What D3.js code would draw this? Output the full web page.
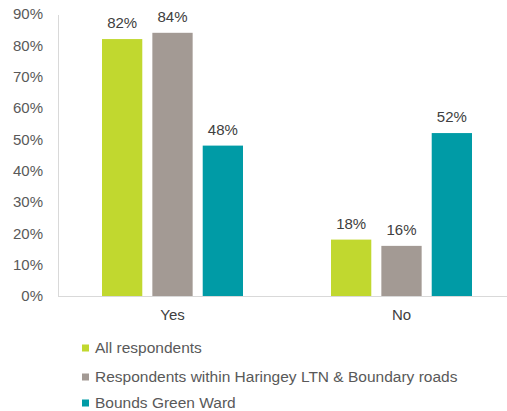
<!DOCTYPE html>
<html><head><meta charset="utf-8">
<script src="https://cdn.jsdelivr.net/npm/d3@7"></script>
<style>body{margin:0;background:#fff}svg{display:block}text{font-family:"Liberation Sans",Arial,sans-serif}</style>
</head><body><svg id="c" width="507" height="411"></svg>
<script>
const categories = ["Yes", "No"];
const seriesNames = ["All respondents", "Respondents within Haringey LTN & Boundary roads", "Bounds Green Ward"];
const allResp = [82, 18];
const haringeyLTN = [84, 16];
const boundsGreen = [48, 52];
const yTicks = [0, 10, 20, 30, 40, 50, 60, 70, 80, 90];
const colors = ["#c1d82f", "#a39a94", "#009ba6"];
const series = [allResp, haringeyLTN, boundsGreen];

const svg = d3.select("#c");
const x0 = d3.scaleBand().domain(categories).range([58, 516]).paddingInner(0).paddingOuter(0);
const x1 = d3.scaleBand().domain(d3.range(3)).range([0, 141]).paddingInner(0.2);
const y = d3.scaleLinear().domain([0, 90]).range([296, 14]);

svg.append("line").attr("x1", 58).attr("x2", 507).attr("y1", y(0)+0.5).attr("y2", y(0)+0.5).attr("stroke", "#d9d9d9");
svg.append("line").attr("x1", 58.5).attr("x2", 58.5).attr("y1", y(90)+1).attr("y2", y(0)).attr("stroke", "#d9d9d9");

svg.selectAll(".yt").data(yTicks).enter().append("text")
  .attr("x", 43).attr("y", d => y(d)).attr("dy", "0.35em").attr("text-anchor", "end")
  .attr("font-size", 15).attr("fill", "#595959").text(d => d + "%");

categories.forEach((c, ci) => {
  const cx = x0(c) + x0.bandwidth()/2 - 70.5;
  series.forEach((s, si) => {
    const bx = cx + x1(si);
    svg.append("rect").attr("x", bx).attr("y", y(s[ci])).attr("width", x1.bandwidth())
      .attr("height", y(0) - y(s[ci])).attr("fill", colors[si]);
    svg.append("text").attr("x", bx + x1.bandwidth()/2).attr("y", y(s[ci]) - 11)
      .attr("text-anchor", "middle").attr("font-size", 15).attr("fill", "#404040").text(s[ci] + "%");
  });
  svg.append("text").attr("x", x0(c) + x0.bandwidth()/2).attr("y", 320)
    .attr("text-anchor", "middle").attr("font-size", 15).attr("fill", "#404040").text(c);
});

const ly = [348, 377, 403];
seriesNames.forEach((n, i) => {
  svg.append("rect").attr("x", 82).attr("y", ly[i] - 3.5).attr("width", 7).attr("height", 7).attr("fill", colors[i]);
  svg.append("text").attr("x", 95).attr("y", ly[i]).attr("dy", "0.35em").attr("font-size", 15.5)
    .attr("fill", "#595959").text(n);
});
</script></body></html>
